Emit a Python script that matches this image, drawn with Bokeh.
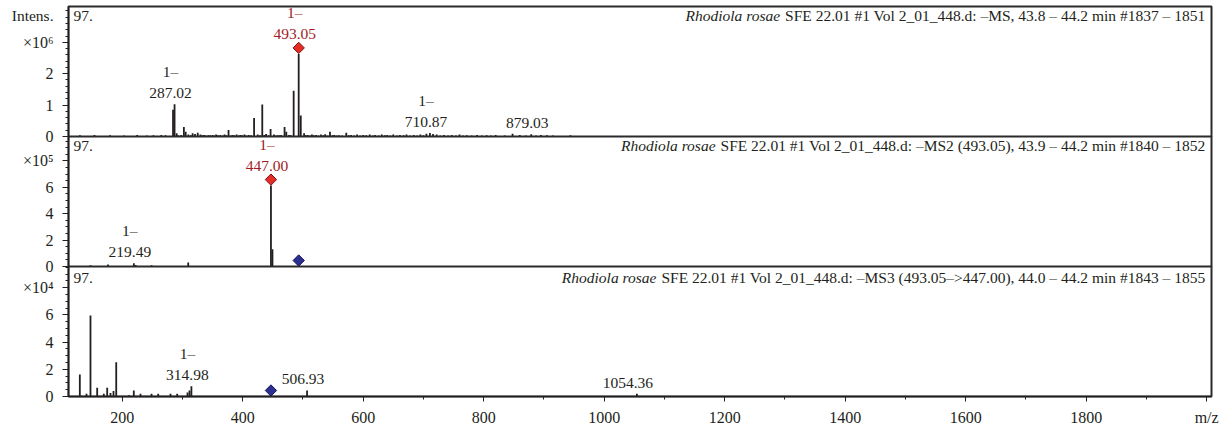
import numpy as np
from bokeh.plotting import figure
from bokeh.layouts import column
from bokeh.models import Range1d, FixedTicker, ColumnDataSource
from bokeh.core.properties import value
from bokeh.embed import file_html
from bokeh.resources import INLINE

# ------------------------------------------------------------------ data
# MS1 spectrum (intensity in units of 10^6)
ms1_mz = [130, 154, 180, 203, 225, 241, 252, 265, 272, 284.5,
          287.02, 290.5, 302.5, 305.5, 310, 317, 321, 325.5, 330, 336,
          343, 350, 356, 363, 370, 376.6, 383, 390, 396, 403,
          410, 419, 425, 432.6, 439, 446.4, 452, 458, 464, 469.6,
          472.5, 484.7, 493.05, 496.5, 502, 508, 515, 522, 530, 537,
          545, 552, 560, 572, 580, 590, 600, 611, 620, 631,
          640, 650, 661, 672, 684, 695, 705, 710.87, 716, 722,
          734, 747, 760, 772, 789, 805, 820, 848, 860, 879.03,
          895, 905, 944]
ms1_int = [0.04, 0.05, 0.04, 0.03, 0.05, 0.03, 0.04, 0.05, 0.04, 0.85,
           1.03, 0.10, 0.30, 0.15, 0.06, 0.10, 0.08, 0.12, 0.06, 0.05,
           0.04, 0.05, 0.06, 0.05, 0.06, 0.21, 0.05, 0.06, 0.05, 0.06,
           0.05, 0.59, 0.06, 1.02, 0.08, 0.24, 0.06, 0.04, 0.05, 0.30,
           0.15, 1.46, 2.63, 0.67, 0.10, 0.05, 0.06, 0.05, 0.06, 0.07,
           0.15, 0.05, 0.04, 0.12, 0.05, 0.06, 0.05, 0.06, 0.05, 0.06,
           0.05, 0.06, 0.05, 0.06, 0.05, 0.06, 0.09, 0.11, 0.08, 0.06,
           0.05, 0.05, 0.06, 0.04, 0.05, 0.04, 0.05, 0.09, 0.05, 0.07,
           0.05, 0.04, 0.04]
# low-level chemical noise of the MS1 scan (x10^6)
ms1_noise_mz = [293, 298, 314, 333, 339, 346, 353, 359, 367, 373,
                380, 386, 393, 399, 406, 414, 429, 436, 443, 455,
                461, 477, 480, 505, 512, 518, 526, 534, 541, 549,
                556, 565, 576, 585, 595, 605, 616, 626, 636, 645,
                656, 667, 678, 690, 700, 728, 741, 754, 766, 780,
                797, 812, 835, 870, 887, 915]
ms1_noise_int = [0.04, 0.05, 0.04, 0.04, 0.03, 0.04, 0.03, 0.04, 0.03, 0.04,
                 0.03, 0.04, 0.03, 0.04, 0.03, 0.04, 0.04, 0.05, 0.04, 0.03,
                 0.04, 0.05, 0.04, 0.04, 0.03, 0.04, 0.03, 0.04, 0.03, 0.04,
                 0.03, 0.03, 0.04, 0.03, 0.03, 0.04, 0.03, 0.03, 0.04, 0.03,
                 0.03, 0.04, 0.03, 0.03, 0.04, 0.03, 0.03, 0.03, 0.03, 0.03,
                 0.03, 0.03, 0.03, 0.03, 0.03, 0.03]

# MS2 spectrum (intensity in units of 10^5)
ms2_mz = [147.5, 176.6, 219.49, 222.5, 248.8, 309.7, 447.00, 449.5]
ms2_int = [0.10, 0.15, 0.25, 0.12, 0.10, 0.30, 6.13, 1.30]

# MS3 spectrum (intensity in units of 10^4)
ms3_mz = [129.8, 140.9, 147.5, 158.6, 169.6, 175.2, 180.7, 185.7, 190.2, 211.1,
          219.4, 230.5, 248.8, 259.9, 280.3, 291.4, 308.5, 311.8, 314.98, 506.93,
          1054.36]
ms3_int = [1.62, 0.20, 5.95, 0.64, 0.20, 0.64, 0.25, 0.40, 2.52, 0.10,
           0.44, 0.20, 0.20, 0.20, 0.20, 0.20, 0.30, 0.45, 0.75, 0.45,
           0.20]

# annotated peaks
ms1_ann_mz = [287.02, 493.05, 710.87, 879.03]
ms1_ann_charge = ["1–", "1–", "1–", ""]
ms2_ann_mz = [219.49, 447.00]
ms2_ann_charge = ["1–", "1–"]
ms3_ann_mz = [314.98, 506.93, 1054.36]
ms3_ann_charge = ["1–", "", ""]

# precursor markers
ms1_prec_red = [493.05]
ms1_prec_blue = []
ms2_prec_red = [447.00]
ms2_prec_blue = [493.05]
ms3_prec_red = []
ms3_prec_blue = [447.00]

# y scales
ms1_ymax, ms2_ymax, ms3_ymax = 4.14, 9.85, 9.56
ms1_major = [0, 1, 2, 3]
ms2_major = [0, 2, 4, 6, 8]
ms3_major = [0, 2, 4, 6, 8]
ms1_exp = "×10⁶"
ms2_exp = "×10⁵"
ms3_exp = "×10⁴"

sample_name = "Rhodiola rosae"
ms1_info = "SFE 22.01 #1 Vol 2_01_448.d: –MS, 43.8 – 44.2 min #1837 – 1851"
ms2_info = "SFE 22.01 #1 Vol 2_01_448.d: –MS2 (493.05), 43.9 – 44.2 min #1840 – 1852"
ms3_info = "SFE 22.01 #1 Vol 2_01_448.d: –MS3 (493.05–>447.00), 44.0 – 44.2 min #1843 – 1855"
panel_tag = "97."
y_title = "Intens."

x_ticks = [200, 400, 600, 800, 1000, 1200, 1400, 1600, 1800, 2000]
x_tick_labels = ["200", "400", "600", "800", "1000", "1200", "1400", "1600", "1800", "m/z"]
x_minor = [100, 300, 500, 700, 900, 1100, 1300, 1500, 1700, 1900]
x_start, x_end = 111, 2008

# ------------------------------------------------------------------ style
FONT = "Liberation Serif"
FS_PX = 15.5
FS = f"{FS_PX}px"
TICK_FS = "16px"
INK = "#231f20"
RED_TXT = "#a01c26"
FRAME_W = 1143
BORDER_L = 68
BORDER_R = 1228 - BORDER_L - FRAME_W
OVERLAP = 9          # room below a frame so its "0" label can straddle the seam
LABEL_SHIFT = {1054.36: -9}

# Times-compatible advance widths (1/1000 em) for header layout
TW = {' ': 250, '#': 500, '(': 333, ')': 333, ',': 250, '.': 250, ':': 278, '>': 564,
      '_': 500, '–': 500, 'S': 556, 'F': 556, 'E': 611, 'V': 722, 'M': 889,
      'o': 500, 'l': 278, 'd': 500, 'm': 778, 'i': 278, 'n': 500}


def text_width(s):
    return sum(TW.get(c, 500) for c in s) / 1000.0 * FS_PX


xr = Range1d(x_start, x_end)


def make_panel(spectra, ymax, major, minor_step, exp_label, frame_h,
               ann_mz, ann_charge, red_mz, blue_mz, info, top_border, show_x, head_dy,
               first):
    kw = dict(frame_width=FRAME_W, frame_height=frame_h, x_range=xr,
              y_range=Range1d(0, ymax), output_backend="svg", toolbar_location=None,
              min_border_left=BORDER_L, min_border_right=BORDER_R, min_border_top=top_border,
              min_border_bottom=32 if show_x else OVERLAP)
    if not show_x:
        kw["x_axis_location"] = None
    if not first:
        kw["margin"] = (-OVERLAP, 0, 0, 0)
    p = figure(**kw)
    p.grid.visible = False
    p.outline_line_color = "#2b2b2b"
    p.outline_line_width = 2
    p.background_fill_color = "white"
    p.border_fill_alpha = 0
    if first:
        p.border_fill_color = "white"
        p.border_fill_alpha = 1

    # y axis
    ya = p.yaxis[0]
    minors = [round(v, 4) for v in np.arange(0, ymax + 1e-9, minor_step)]
    ya.ticker = FixedTicker(ticks=major, minor_ticks=minors)
    ya.major_label_overrides = {major[-1]: exp_label}
    ya.major_label_text_font = FONT
    ya.major_label_text_font_size = TICK_FS
    ya.major_label_text_color = INK
    ya.major_tick_out = 6
    ya.major_tick_in = 0
    ya.minor_tick_out = 3
    ya.minor_tick_in = 0
    ya.major_label_standoff = 9
    ya.axis_line_color = INK
    ya.axis_line_width = 1.5
    ya.major_tick_line_color = INK
    ya.minor_tick_line_color = INK

    if show_x:
        xa = p.xaxis[0]
        xa.ticker = FixedTicker(ticks=x_ticks, minor_ticks=x_minor)
        xa.major_label_overrides = dict(zip(x_ticks, x_tick_labels))
        xa.major_label_text_font = FONT
        xa.major_label_text_font_size = TICK_FS
        xa.major_label_text_color = INK
        xa.major_tick_out = 5
        xa.major_tick_in = 0
        xa.minor_tick_out = 3
        xa.minor_tick_in = 0
        xa.major_label_standoff = 7
        xa.axis_line_color = INK
        xa.axis_line_width = 1.5
        xa.major_tick_line_color = INK
        xa.minor_tick_line_color = INK

    # spectrum sticks
    lookup = {}
    for mz, inten in spectra:
        p.segment(x0=mz, y0=[0] * len(mz), x1=mz, y1=inten, line_color=INK, line_width=1.8)
        lookup.update(dict(zip(mz, inten)))
    px_per_unit = frame_h / ymax

    # peak labels
    xs, ys, txt, col, xo, yo = [], [], [], [], [], []
    for m, ch in zip(ann_mz, ann_charge):
        red = m in red_mz
        base = -15 if red else -6
        c = RED_TXT if red else INK
        shift = LABEL_SHIFT.get(m, -4)
        xs.append(m); ys.append(lookup[m]); txt.append(f"{m:.2f}"); col.append(c)
        xo.append(shift); yo.append(base)
        if ch:
            xs.append(m); ys.append(lookup[m]); txt.append(ch); col.append(c)
            xo.append(shift); yo.append(base - 18)
    src = ColumnDataSource(dict(x=xs, y=ys, text=txt, color=col, xo=xo, yo=yo))
    p.text(x="x", y="y", text="text", source=src, text_color="color",
           x_offset="xo", y_offset="yo", text_align="center", text_baseline="bottom",
           text_font=value(FONT), text_font_size=FS)

    # precursor diamonds
    if red_mz:
        p.scatter(x=red_mz, y=[lookup[m] + 6 / px_per_unit for m in red_mz],
                  marker="square", angle=np.pi / 4, size=8,
                  fill_color="#e52d27", line_color="#7a1010", line_width=1)
    if blue_mz:
        p.scatter(x=blue_mz, y=[6 / px_per_unit] * len(blue_mz),
                  marker="square", angle=np.pi / 4, size=8,
                  fill_color="#2b2f8f", line_color="#15175a", line_width=1)

    # header texts
    nw = text_width(info)
    p.text(x=[x_end], y=[ymax], text=[info], x_offset=-6, y_offset=head_dy,
           text_align="right", text_baseline="middle", text_color=INK,
           text_font=value(FONT), text_font_size=FS)
    p.text(x=[x_end], y=[ymax], text=[sample_name],
           x_offset=-6 - nw - 3, y_offset=head_dy,
           text_align="right", text_baseline="middle", text_color=INK,
           text_font=value(FONT), text_font_size=FS, text_font_style="italic")
    p.text(x=[x_start], y=[ymax], text=[panel_tag], x_offset=5, y_offset=head_dy,
           text_align="left", text_baseline="middle", text_color=INK,
           text_font=value(FONT), text_font_size=FS)
    return p


p1 = make_panel([(ms1_mz, ms1_int), (ms1_noise_mz, ms1_noise_int)], ms1_ymax, ms1_major, 0.2,
                ms1_exp, 130, ms1_ann_mz, ms1_ann_charge, ms1_prec_red, ms1_prec_blue,
                ms1_info, 6, False, 9, True)
p2 = make_panel([(ms2_mz, ms2_int)], ms2_ymax, ms2_major, 0.5, ms2_exp, 130,
                ms2_ann_mz, ms2_ann_charge, ms2_prec_red, ms2_prec_blue, ms2_info, 0, False, 9,
                False)
p3 = make_panel([(ms3_mz, ms3_int)], ms3_ymax, ms3_major, 0.5, ms3_exp, 130,
                ms3_ann_mz, ms3_ann_charge, ms3_prec_red, ms3_prec_blue, ms3_info, 0, True, 11,
                False)

# "Intens." caption at the top of the first intensity axis
p1.text(x=[x_start], y=[ms1_ymax], text=[y_title], x_offset=-15, y_offset=9,
        text_align="right", text_baseline="middle", text_color=INK,
        text_font=value(FONT), text_font_size=FS, level="overlay")

layout = column(p1, p2, p3, spacing=0)
open("out.html", "w").write(file_html(layout, INLINE))
